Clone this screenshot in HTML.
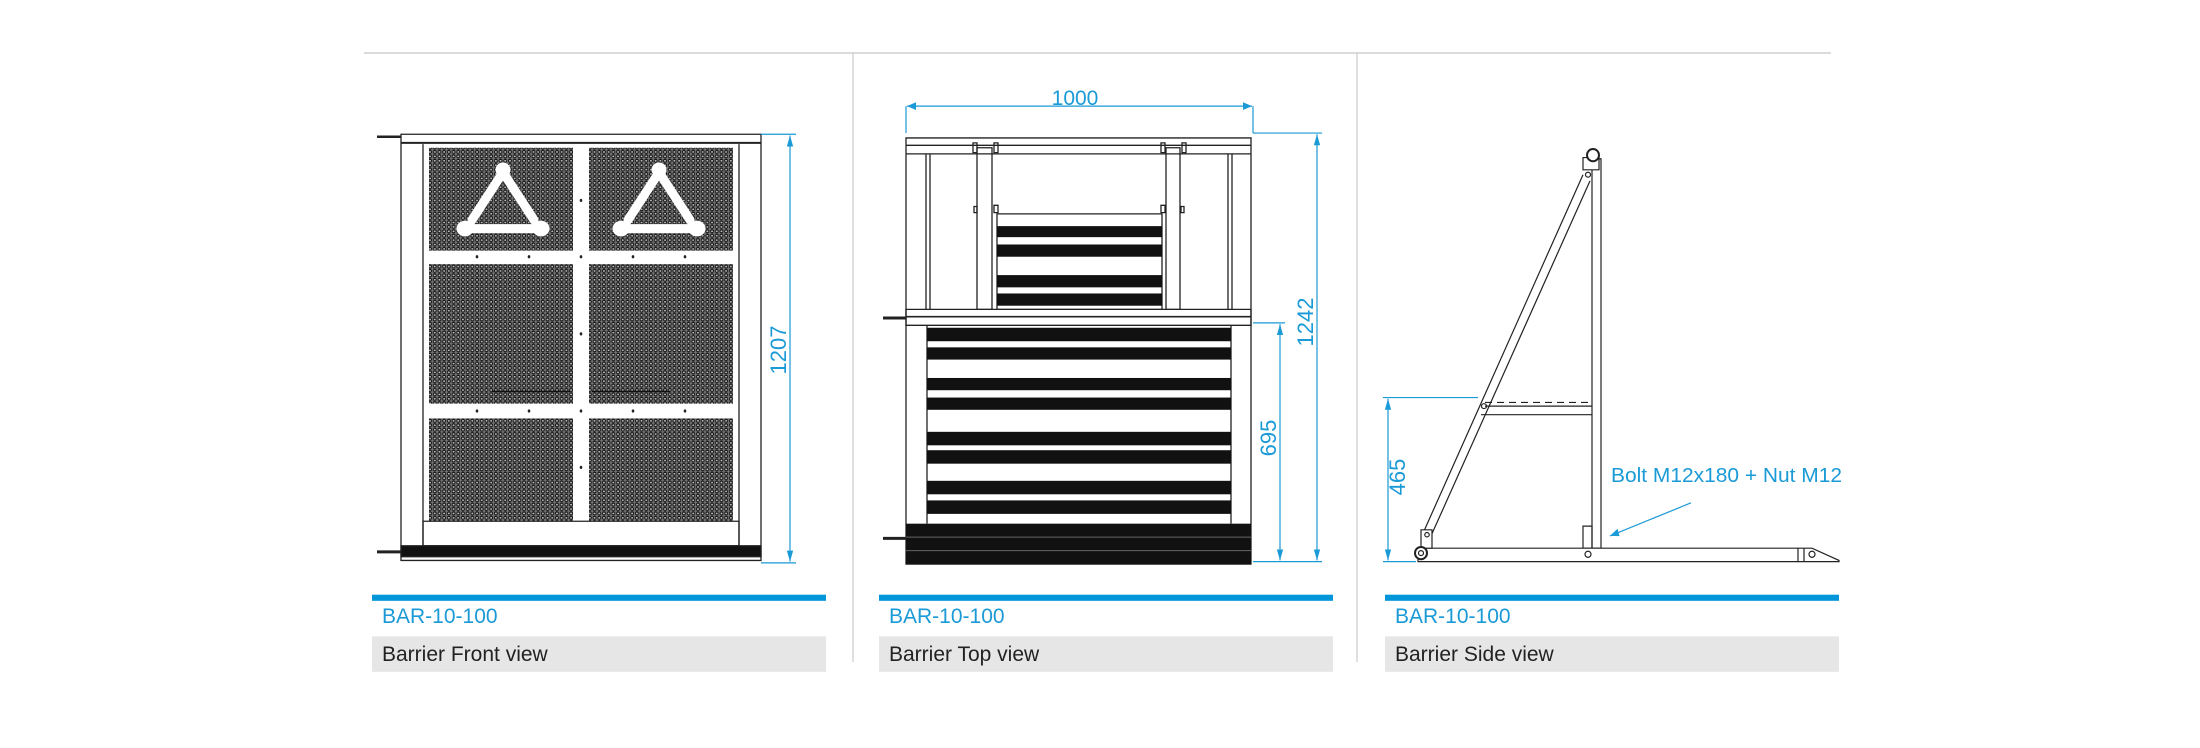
<!DOCTYPE html>
<html><head><meta charset="utf-8"><style>html,body{margin:0;padding:0;background:#fff}svg{display:block}.s *{vector-effect:non-scaling-stroke}</style></head>
<body>
<svg width="2200" height="748" viewBox="0 0 2200 748" xmlns="http://www.w3.org/2000/svg" font-family="'Liberation Sans', sans-serif">
<defs>
<pattern id="perf" x="0" y="0" width="4.7" height="3.6" patternUnits="userSpaceOnUse">
<rect width="4.7" height="3.6" fill="#707070"/>
<ellipse cx="2.35" cy="1.8" rx="1.5" ry="1.2" fill="#bdbdbd" stroke="#111" stroke-width="0.9"/>
</pattern>
<marker id="ar" viewBox="0 0 10 10" refX="10" refY="5" markerWidth="9" markerHeight="9" orient="auto-start-reverse" markerUnits="userSpaceOnUse"><path d="M0,1.5 L10,5 L0,8.5z" fill="#1a9ad6"/></marker>
</defs>

<line x1="364" y1="53" x2="1831" y2="53" stroke="#cfcfcf" stroke-width="1.5"/>
<line x1="853" y1="53" x2="853" y2="662" stroke="#d5d5d5" stroke-width="1.5"/>
<line x1="1357" y1="53" x2="1357" y2="662" stroke="#d5d5d5" stroke-width="1.5"/>

<g class="s" transform="matrix(1,0,0,1.2245,0,-8.98)">
<!-- ============ FRONT VIEW ============ -->
<g stroke="#222" fill="none" stroke-width="1.3">
<rect x="401" y="117" width="360" height="348" fill="#fff"/>
<line x1="401" y1="124" x2="761" y2="124" stroke-width="2"/>
<line x1="423" y1="125" x2="423" y2="453"/>
<line x1="739" y1="125" x2="739" y2="453"/>
<rect x="423" y="433" width="316" height="20"/>
<rect x="401" y="453" width="360" height="9" fill="#111"/>
<line x1="377" y1="119" x2="401" y2="119" stroke-width="2.5"/>
<line x1="377" y1="458" x2="401" y2="458" stroke-width="3"/>
</g>
<g>
<rect x="429" y="128" width="144" height="84" fill="url(#perf)"/>
<rect x="589" y="128" width="144" height="84" fill="url(#perf)"/>
<rect x="429" y="223" width="144" height="114" fill="url(#perf)"/>
<rect x="589" y="223" width="144" height="114" fill="url(#perf)"/>
<rect x="429" y="349" width="144" height="84" fill="url(#perf)"/>
<rect x="589" y="349" width="144" height="84" fill="url(#perf)"/>
</g>
<g fill="#fff" stroke="#fff">
<g>
<path d="M503,148 L472,187 M503,148 L534,187 M467,194 L539,194" stroke-width="9" stroke-linecap="round" fill="none"/>
<ellipse cx="503" cy="146" rx="7" ry="5.5"/><ellipse cx="465" cy="194" rx="8" ry="6"/><ellipse cx="541" cy="194" rx="8" ry="6"/>
</g>
<g transform="translate(156,0)">
<path d="M503,148 L472,187 M503,148 L534,187 M467,194 L539,194" stroke-width="9" stroke-linecap="round" fill="none"/>
<ellipse cx="503" cy="146" rx="7" ry="5.5"/><ellipse cx="465" cy="194" rx="8" ry="6"/><ellipse cx="541" cy="194" rx="8" ry="6"/>
</g>
</g>
<g fill="#222">
<circle cx="581" cy="171" r="1.3"/><circle cx="581" cy="217" r="1.3"/><circle cx="581" cy="280" r="1.3"/><circle cx="581" cy="343" r="1.3"/><circle cx="581" cy="389" r="1.3"/>
<circle cx="477" cy="217" r="1.3"/><circle cx="529" cy="217" r="1.3"/><circle cx="633" cy="217" r="1.3"/><circle cx="685" cy="217" r="1.3"/>
<circle cx="477" cy="343" r="1.3"/><circle cx="529" cy="343" r="1.3"/><circle cx="633" cy="343" r="1.3"/><circle cx="685" cy="343" r="1.3"/>
</g>
<g stroke="#111" stroke-width="1.5"><line x1="492" y1="327" x2="570" y2="327"/><line x1="592" y1="327" x2="670" y2="327"/></g>
<g stroke="#1a9ad6" stroke-width="1.2">
<line x1="761" y1="117" x2="796" y2="117"/><line x1="761" y1="467" x2="796" y2="467"/>
<line x1="790" y1="118" x2="790" y2="466" marker-start="url(#ar)" marker-end="url(#ar)"/>
</g>
<rect x="372" y="493" width="454" height="5" fill="#0096d8"/>
<rect x="372" y="527" width="454" height="29" fill="#e6e6e6"/>

<!-- ============ TOP VIEW ============ -->
<g stroke="#222" fill="none" stroke-width="1.3">
<rect x="906" y="120" width="345" height="348" fill="#fff"/>
<line x1="906" y1="133" x2="1251" y2="133"/>
<line x1="906" y1="126" x2="1251" y2="126"/>
<rect x="906" y="260" width="345" height="13"/>
<line x1="906" y1="266" x2="1251" y2="266" stroke-width="1.6"/>
<line x1="926" y1="133" x2="926" y2="260"/><line x1="930" y1="133" x2="930" y2="260"/>
<line x1="1228" y1="133" x2="1228" y2="260"/><line x1="1232" y1="133" x2="1232" y2="260"/>
<line x1="927" y1="273" x2="927" y2="435"/><line x1="1231" y1="273" x2="1231" y2="435"/>
<rect x="977" y="128" width="15" height="132"/>
<rect x="1166" y="128" width="14" height="132"/>
<rect x="997" y="182" width="165" height="78"/>
<rect x="973" y="124" width="4" height="8"/><rect x="994" y="124" width="4" height="8"/>
<rect x="1161" y="124" width="4" height="8"/><rect x="1182" y="124" width="4" height="8"/>
<rect x="974" y="176" width="3" height="5"/><rect x="994" y="175" width="4" height="6"/>
<rect x="1161" y="175" width="4" height="6"/><rect x="1181" y="176" width="3" height="5"/>
<line x1="883" y1="267" x2="906" y2="267" stroke-width="3"/>
<line x1="883" y1="447" x2="906" y2="447" stroke-width="3"/>
</g>
<g fill="#111">
<rect x="997" y="192" width="165" height="9"/><rect x="997" y="207" width="165" height="10"/>
<rect x="997" y="232" width="165" height="10"/><rect x="997" y="247" width="165" height="10"/>
<rect x="927" y="275" width="304" height="11"/><rect x="927" y="291" width="304" height="10"/>
<rect x="927" y="316" width="304" height="10"/><rect x="927" y="332" width="304" height="10"/>
<rect x="927" y="360" width="304" height="11"/><rect x="927" y="375" width="304" height="11"/>
<rect x="927" y="400" width="304" height="11"/><rect x="927" y="416" width="304" height="11"/>
<rect x="906" y="435" width="345" height="33"/>
</g>
<g stroke="#666" stroke-width="1"><line x1="906" y1="446" x2="1251" y2="446"/><line x1="906" y1="457" x2="1251" y2="457"/></g>
<g stroke="#1a9ad6" stroke-width="1.2" fill="none">
<line x1="907" y1="94" x2="1252" y2="94" marker-start="url(#ar)" marker-end="url(#ar)"/>
<line x1="906" y1="94" x2="906" y2="116"/><line x1="1253" y1="94" x2="1253" y2="116"/>
<line x1="1253" y1="116" x2="1322" y2="116"/>
<line x1="1253" y1="466" x2="1322" y2="466"/>
<line x1="1317" y1="117" x2="1317" y2="465" marker-start="url(#ar)" marker-end="url(#ar)"/>
<line x1="1253" y1="271" x2="1285" y2="271"/>
<line x1="1280" y1="272" x2="1280" y2="465" marker-start="url(#ar)" marker-end="url(#ar)"/>
</g>
<rect x="879" y="493" width="454" height="5" fill="#0096d8"/>
<rect x="879" y="527" width="454" height="29" fill="#e6e6e6"/>

<!-- ============ SIDE VIEW ============ -->
<g stroke="#222" fill="none" stroke-width="1.2">
<rect x="1592" y="137" width="9" height="318" fill="#fff"/>
<rect x="1583" y="136" width="16" height="10" fill="#fff"/>
<ellipse cx="1593" cy="134" rx="6" ry="5" fill="#fff" stroke-width="2"/>
<line x1="1424" y1="441" x2="1583" y2="150"/>
<line x1="1431" y1="445" x2="1590" y2="155"/>
<line x1="1485" y1="336" x2="1592" y2="336" stroke-dasharray="7 5"/>
<line x1="1485" y1="339" x2="1592" y2="339"/>
<line x1="1481" y1="346" x2="1592" y2="346"/>
<ellipse cx="1484" cy="339" rx="2.5" ry="2"/>
<ellipse cx="1588" cy="150" rx="2.5" ry="2"/>
<rect x="1583" y="437" width="9" height="18"/>
<rect x="1418" y="455" width="380" height="11" fill="#fff"/>
<path d="M1798,455 L1812,455 L1839,465 L1839,466 L1798,466"/>
<line x1="1804" y1="455" x2="1804" y2="466"/>
<ellipse cx="1812" cy="460" rx="3" ry="2.5"/>
<ellipse cx="1588" cy="460" rx="3" ry="2.5"/>
<rect x="1421" y="440" width="11" height="15" fill="#fff"/>
<ellipse cx="1427" cy="444" rx="2.2" ry="1.8"/>
<ellipse cx="1421" cy="459" rx="6" ry="5" fill="#fff" stroke-width="2"/>
<ellipse cx="1421" cy="459" rx="2.5" ry="2"/>
</g>
<g stroke="#1a9ad6" stroke-width="1.2" fill="none">
<line x1="1383" y1="332" x2="1478" y2="332"/>
<line x1="1383" y1="466" x2="1416" y2="466"/>
<line x1="1388" y1="333" x2="1388" y2="465" marker-start="url(#ar)" marker-end="url(#ar)"/>
<line x1="1691" y1="418" x2="1610" y2="445" marker-end="url(#ar)"/>
</g>
<rect x="1385" y="493" width="454" height="5" fill="#0096d8"/>
<rect x="1385" y="527" width="454" height="29" fill="#e6e6e6"/>
</g>

<!-- texts -->
<text transform="translate(786,350) rotate(-90)" text-anchor="middle" font-size="22" fill="#1a9ad6">1207</text>
<text x="382" y="623" font-size="21" fill="#1a9ad6">BAR-10-100</text>
<text x="382" y="661" font-size="21" fill="#222">Barrier Front view</text>

<text x="1075" y="105" text-anchor="middle" font-size="21" fill="#1a9ad6">1000</text>
<text transform="translate(1313,322) rotate(-90)" text-anchor="middle" font-size="22" fill="#1a9ad6">1242</text>
<text transform="translate(1276,438) rotate(-90)" text-anchor="middle" font-size="22" fill="#1a9ad6">695</text>
<text x="889" y="623" font-size="21" fill="#1a9ad6">BAR-10-100</text>
<text x="889" y="661" font-size="21" fill="#222">Barrier Top view</text>

<text transform="translate(1405,477) rotate(-90)" text-anchor="middle" font-size="22" fill="#1a9ad6">465</text>
<text x="1611" y="482" font-size="20" fill="#1a9ad6" textLength="231" lengthAdjust="spacingAndGlyphs">Bolt M12x180 + Nut M12</text>
<text x="1395" y="623" font-size="21" fill="#1a9ad6">BAR-10-100</text>
<text x="1395" y="661" font-size="21" fill="#222">Barrier Side view</text>
</svg>
</body></html>
